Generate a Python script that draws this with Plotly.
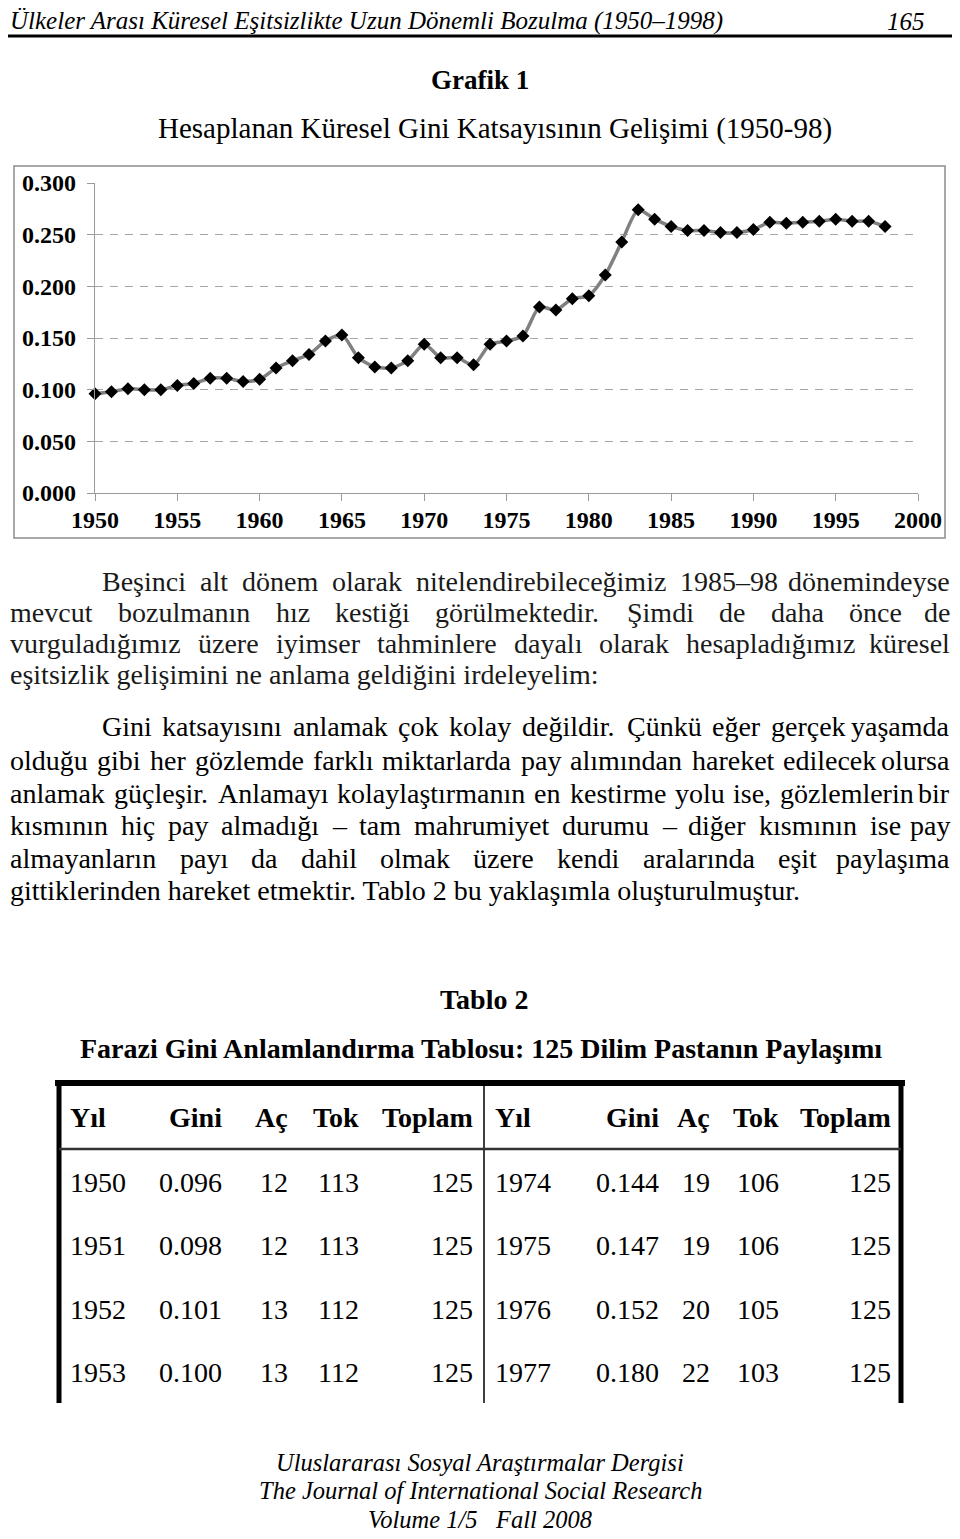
import plotly.graph_objects as go

# The page body has an 8px margin, so the figure is 16px smaller than the
# 960x1539 window and every page coordinate is shifted by OFF.
OFF = 8
W, H = 960 - 2 * OFF, 1539 - 2 * OFF
SERIF = "Liberation Serif"

# ---------------- data ----------------
years = list(range(1950, 1999))
gini = [0.096, 0.098, 0.101, 0.100, 0.100, 0.104, 0.106, 0.111, 0.111, 0.108,
        0.110, 0.121, 0.128, 0.134, 0.147, 0.153, 0.131, 0.122, 0.121, 0.128,
        0.144, 0.131, 0.131, 0.124, 0.144, 0.147, 0.152, 0.180, 0.177, 0.188,
        0.191, 0.211, 0.243, 0.274, 0.265, 0.258, 0.254, 0.254, 0.252, 0.252,
        0.255, 0.262, 0.261, 0.262, 0.263, 0.265, 0.263, 0.263, 0.258]
y_ticks = [0.0, 0.05, 0.10, 0.15, 0.20, 0.25, 0.30]
grid_ticks = [0.05, 0.10, 0.15, 0.20, 0.25]
x_ticks = [1950, 1955, 1960, 1965, 1970, 1975, 1980, 1985, 1990, 1995, 2000]

header_title = "Ülkeler Arası Küresel Eşitsizlikte Uzun Dönemli Bozulma (1950–1998)"
page_no = "165"
chart_title = "Grafik 1"
chart_subtitle = "Hesaplanan Küresel Gini Katsayısının Gelişimi (1950-98)"

para1 = [
    "Beşinci alt dönem olarak nitelendirebileceğimiz 1985–98 dönemindeyse",
    "mevcut bozulmanın hız kestiği görülmektedir. Şimdi de daha önce de",
    "vurguladığımız üzere iyimser tahminlere dayalı olarak hesapladığımız küresel",
    "eşitsizlik gelişimini ne anlama geldiğini irdeleyelim:",
]
para2 = [
    "Gini katsayısını anlamak çok kolay değildir. Çünkü eğer gerçek yaşamda",
    "olduğu gibi her gözlemde farklı miktarlarda pay alımından hareket edilecek olursa",
    "anlamak güçleşir. Anlamayı kolaylaştırmanın en kestirme yolu ise, gözlemlerin bir",
    "kısmının hiç pay almadığı – tam mahrumiyet durumu – diğer kısmının ise pay",
    "almayanların payı da dahil olmak üzere kendi aralarında eşit paylaşıma",
    "gittiklerinden hareket etmektir. Tablo 2 bu yaklaşımla oluşturulmuştur.",
]

table_title = "Tablo 2"
table_subtitle = "Farazi Gini Anlamlandırma Tablosu: 125 Dilim Pastanın Paylaşımı"
table_cols = ["Yıl", "Gini", "Aç", "Tok", "Toplam"]
left_yil = ["1950", "1951", "1952", "1953"]
left_gini = ["0.096", "0.098", "0.101", "0.100"]
left_ac = ["12", "12", "13", "13"]
left_tok = ["113", "113", "112", "112"]
left_top = ["125", "125", "125", "125"]
right_yil = ["1974", "1975", "1976", "1977"]
right_gini = ["0.144", "0.147", "0.152", "0.180"]
right_ac = ["19", "19", "20", "22"]
right_tok = ["106", "106", "105", "103"]
right_top = ["125", "125", "125", "125"]

footer = ["Uluslararası Sosyal Araştırmalar Dergisi",
          "The Journal of International Social Research",
          "Volume 1/5\u00a0\u00a0 Fall 2008"]

# ---------------- helpers ----------------
def px(x):
    return (x - OFF) / W


def py(y):
    return 1 - (y - OFF) / H


CW = {' ': 250, '.': 250, ',': 250, ':': 278, ';': 278, '-': 333, '–': 500,
      '(': 333, ')': 333, '/': 278,
      'A': 722, 'B': 667, 'C': 667, 'D': 722, 'E': 611, 'F': 556, 'G': 722,
      'H': 722, 'I': 333, 'J': 389, 'K': 722, 'L': 611, 'M': 889, 'N': 722,
      'O': 722, 'P': 556, 'Q': 722, 'R': 667, 'S': 556, 'T': 611, 'U': 722,
      'V': 722, 'W': 944, 'X': 722, 'Y': 722, 'Z': 611,
      'a': 444, 'b': 500, 'c': 444, 'd': 500, 'e': 444, 'f': 333, 'g': 500,
      'h': 500, 'i': 278, 'j': 278, 'k': 500, 'l': 278, 'm': 778, 'n': 500,
      'o': 500, 'p': 500, 'q': 500, 'r': 333, 's': 389, 't': 278, 'u': 500,
      'v': 500, 'w': 722, 'x': 500, 'y': 500, 'z': 444,
      'ç': 444, 'ğ': 500, 'ı': 278, 'ö': 500, 'ş': 389, 'ü': 500,
      'Ç': 667, 'Ş': 556, 'Ü': 722, 'İ': 333, 'Ö': 722}


def tw(s, size):
    return sum(CW.get(c, 500) for c in s) / 1000 * size


annotations = []
shapes = []


def text(x, y, s, size, anchor="left", color="black", bold=False, italic=False):
    t = s
    if bold:
        t = "<b>" + t + "</b>"
    if italic:
        t = "<i>" + t + "</i>"
    annotations.append(dict(x=px(x), y=py(y), xref="paper", yref="paper",
                            text=t, showarrow=False, xanchor=anchor,
                            yanchor="middle",
                            font=dict(family=SERIF, size=size, color=color)))


def justify(line, x0, x1, y, size, color="black"):
    words = line.split(" ")
    ws = [tw(w, size) for w in words]
    gap = (x1 - x0 - sum(ws)) / (len(words) - 1)
    x = x0
    for i, w in enumerate(words):
        if i == len(words) - 1:
            text(x1, y, w, size, anchor="right", color=color)
        else:
            text(x, y, w, size, anchor="left", color=color)
        x += ws[i] + gap


def hline(x0, x1, y, w=1, color="black"):
    shapes.append(dict(type="line", xref="paper", yref="paper",
                       x0=px(x0), x1=px(x1), y0=py(y), y1=py(y),
                       line=dict(color=color, width=w)))


def vline(x, y0, y1, w=1, color="black"):
    shapes.append(dict(type="line", xref="paper", yref="paper",
                       x0=px(x), x1=px(x), y0=py(y0), y1=py(y1),
                       line=dict(color=color, width=w)))


# ---------------- page header ----------------
text(8, 21, header_title, 25, italic=True)
text(927, 21, page_no, 25, anchor="right", italic=True)
hline(0, 960, 36, w=3)
text(480, 80, chart_title, 27, anchor="center", bold=True)
text(495, 129, chart_subtitle, 29, anchor="center")

# ---------------- chart ----------------
shapes.append(dict(type="rect", xref="paper", yref="paper",
                   x0=px(14), x1=px(945), y0=py(538), y1=py(166),
                   line=dict(color="#8c8c8c", width=1.5)))

fig = go.Figure()
fig.add_trace(go.Scatter(x=years, y=gini, mode="lines+markers",
                         line=dict(color="#808080", width=3.5, shape="spline",
                                   smoothing=0.7),
                         marker=dict(symbol="diamond", size=10, color="black"),
                         showlegend=False, cliponaxis=False))
# invisible trace to activate the dashed-grid overlay axis
fig.add_trace(go.Scatter(x=[years[0]], y=[gini[0]], yaxis="y2", mode="markers",
                         marker=dict(opacity=0), showlegend=False,
                         hoverinfo="skip"))

tickfont = dict(family=SERIF, size=24, color="black", weight="bold")
dom_x = [px(95), px(918)]
dom_y = [py(493), py(183)]

# ---------------- body text ----------------
BODY = 28
p1_y = [581, 612, 643, 674]
for i, line in enumerate(para1):
    x0 = 100 if i == 0 else 8
    if i == len(para1) - 1:
        text(x0, p1_y[i], line, BODY, color="#1a1a1a")
    else:
        justify(line, x0, 952, p1_y[i], BODY, color="#1a1a1a")

p2_y = [727, 760, 793, 825, 858, 890]
for i, line in enumerate(para2):
    x0 = 100 if i == 0 else 8
    if i == len(para2) - 1:
        text(x0, p2_y[i], line, BODY)
    else:
        justify(line, x0, 952, p2_y[i], BODY)

# ---------------- table ----------------
text(484, 1000, table_title, 28, anchor="center", bold=True)
text(481, 1048, table_subtitle, 28, anchor="center", bold=True)

TOP, BOT = 1083, 1403
hline(55, 905, TOP, w=6)
vline(59, TOP, BOT, w=5)
vline(901, TOP, BOT, w=5)
vline(484, TOP, BOT, w=1.5)
hline(59, 901, 1149, w=2.5, color="#333333")

left_x = [(68, "left"), (224, "right"), (290, "right"), (361, "right"), (475, "right")]
right_x = [(493, "left"), (661, "right"), (712, "right"), (781, "right"), (893, "right")]
hdr_y = 1117
row_y = [1182, 1245, 1309, 1372]
for cols in (left_x, right_x):
    for (x, a), name in zip(cols, table_cols):
        text(x, hdr_y, name, 28, anchor=a, bold=True)

for side, cols in ((0, left_x), (1, right_x)):
    data = [left_yil, left_gini, left_ac, left_tok, left_top] if side == 0 else \
        [right_yil, right_gini, right_ac, right_tok, right_top]
    for r in range(4):
        for (x, a), colvals in zip(cols, data):
            text(x, row_y[r], colvals[r], 28, anchor=a)

# ---------------- footer ----------------
for s, y in zip(footer, [1462, 1490.5, 1519]):
    text(480, y, s, 24.5, anchor="center", italic=True)

fig.update_layout(
    width=W, height=H,
    margin=dict(l=0, r=0, t=0, b=0, autoexpand=False),
    paper_bgcolor="white", plot_bgcolor="white",
    xaxis=dict(domain=dom_x, range=[1950, 2000], tickvals=x_ticks,
               ticks="outside", ticklen=7, tickcolor="#9a9a9a",
               showline=True, linecolor="#9a9a9a", linewidth=1.2,
               showgrid=False, zeroline=False, tickfont=tickfont,
               ticklabelstandoff=-2, automargin=False),
    yaxis=dict(domain=dom_y, range=[0, 0.3], tickvals=y_ticks,
               tickformat=".3f", ticks="outside", ticklen=7,
               tickcolor="#9a9a9a", showline=True, linecolor="#9a9a9a",
               linewidth=1.2, showgrid=False, zeroline=False,
               tickfont=tickfont, ticklabelstandoff=6, automargin=False),
    yaxis2=dict(domain=dom_y, range=[0, 0.3], overlaying="y",
                tickvals=grid_ticks, showticklabels=False, ticks="",
                showgrid=True, gridcolor="#a6a6a6", gridwidth=1.2,
                griddash="8px,7px", zeroline=False, showline=False,
                automargin=False),
    annotations=annotations,
    shapes=shapes,
)

fig.write_html("out.html")
